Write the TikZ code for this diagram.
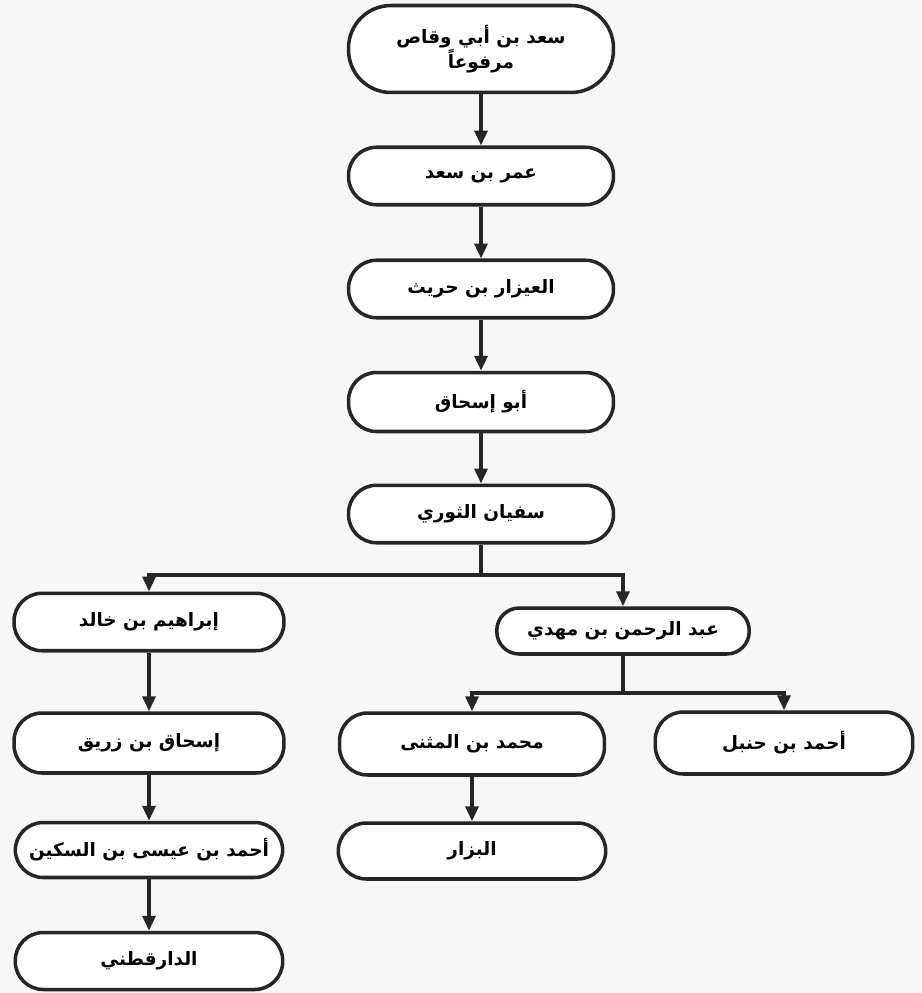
\documentclass[tikz,border=0pt]{standalone}
\usepackage{fontspec}
\usepackage{tikz}
\usetikzlibrary{arrows.meta}
\usetikzlibrary{positioning}
\newfontfamily\arabicfont[Script=Arabic]{DejaVu Sans}
\TeXXeTstate=1
\newcommand{\ar}[1]{\beginR #1\endR}

\begin{document}
\begin{tikzpicture}[x=0.02cm, y=-0.02cm,
    namebox/.style={draw=black!85, line width=2pt, rounded corners=0.56cm, fill=white, minimum width=5.3cm, minimum height=1.15cm, align=center, font=\arabicfont\bfseries\fontsize{10.5}{14}\selectfont},
    link/.style={line width=2pt, draw=black!85, -{Triangle[length=0.3cm, width=0.26cm]}}]
        \useasboundingbox (0,0) rectangle (921,993);
        \fill[black!3] (0,0) rectangle (921,993);

        \node[namebox, rounded corners=0.85cm, minimum height=1.74cm] (saad) at (481,49) {\ar{سعد بن أبي وقاص}\\ \ar{مرفوعاً}};
        \node[namebox] (omar) at (481,176) {\ar{عمر بن سعد}};
        \node[namebox] (ayzar) at (481,289) {\ar{العيزار بن حريث}};
        \node[namebox, minimum height=1.18cm] (abuishaq) at (481,402) {\ar{أبو إسحاق}};
        \node[namebox] (sufyan) at (481,514) {\ar{سفيان الثوري}};

        \node[namebox, minimum width=5.4cm] (ibrahim) at (149,622) {\ar{إبراهيم بن خالد}};
        \node[namebox, minimum width=5.05cm, minimum height=0.92cm, rounded corners=0.45cm] (mahdi) at (623,631) {\ar{عبد الرحمن بن مهدي}};
        \node[namebox, minimum width=5.4cm, minimum height=1.2cm] (zurayq) at (149,743) {\ar{إسحاق بن زريق}};
        \node[namebox, minimum height=1.24cm] (muthanna) at (472,744) {\ar{محمد بن المثنى}};
        \node[namebox, minimum width=5.15cm, minimum height=1.24cm] (hanbal) at (784,743) {\ar{أحمد بن حنبل}};
        \node[namebox, minimum width=5.35cm, minimum height=1.1cm] (sukayn) at (149,850) {\ar{أحمد بن عيسى بن السكين}};
        \node[namebox, minimum width=5.35cm, minimum height=1.12cm] (bazzar) at (472,851) {\ar{البزار}};
        \node[namebox, minimum width=5.35cm, minimum height=1.14cm] (daraqutni) at (149,961) {\ar{الدارقطني}};

        \coordinate (row1) at (0,575);
        \coordinate (row2) at (0,693);

        \draw[link] (saad) -- (omar);
        \draw[link] (omar) -- (ayzar);
        \draw[link] (ayzar) -- (abuishaq);
        \draw[link] (abuishaq) -- (sufyan);

        \draw[line width=2pt, draw=black!85] (sufyan.south) -- (sufyan.south |- row1) coordinate (fork1);
        \draw[link] (fork1) -| (ibrahim.north);
        \draw[link] (fork1) -| (mahdi.north);

        \draw[line width=2pt, draw=black!85] (mahdi.south) -- (mahdi.south |- row2) coordinate (fork2);
        \draw[link] (fork2) -| (muthanna.north);
        \draw[link] (fork2) -| (hanbal.north);

        \draw[link] (ibrahim) -- (zurayq);
        \draw[link] (zurayq) -- (sukayn);
        \draw[link] (sukayn) -- (daraqutni);
        \draw[link] (muthanna) -- (bazzar);
    \end{tikzpicture}
\end{document}
